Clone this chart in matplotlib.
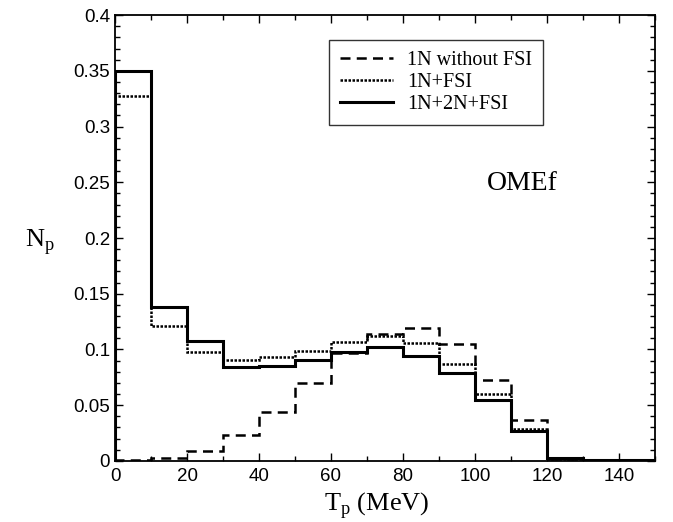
import numpy as np
import matplotlib
matplotlib.use("Agg")
import matplotlib.pyplot as plt
from matplotlib.ticker import MultipleLocator

edges = np.arange(0, 160, 10)
# 1N without FSI
n1_nofsi = [0.001, 0.003, 0.009, 0.023, 0.044, 0.070, 0.097, 0.114, 0.119, 0.105, 0.073, 0.037, 0.002, 0.0008, 0.0003]
# 1N+FSI
n1_fsi = [0.327, 0.121, 0.098, 0.091, 0.093, 0.099, 0.107, 0.112, 0.106, 0.087, 0.060, 0.029, 0.002, 0.001, 0.0005]
# 1N+2N+FSI
n12_fsi = [0.350, 0.138, 0.108, 0.084, 0.085, 0.091, 0.098, 0.102, 0.094, 0.079, 0.055, 0.027, 0.003, 0.001, 0.0005]

serif = "Liberation Serif"
sans = "Liberation Sans"

fig = plt.figure(figsize=(6.73, 5.22), dpi=100)
ax = fig.add_axes([0.171, 0.117, 0.802, 0.854])

ax.stairs(n1_nofsi, edges, color="black", lw=1.8, ls=(0, (4, 2.5)), label="1N without FSI")
ax.stairs(n1_fsi, edges, color="black", lw=1.8, ls=(0, (1, 0.6)), label="1N+FSI")
ax.stairs(n12_fsi, edges, color="black", lw=2.2, label="1N+2N+FSI")

ax.set_xlim(0, 150)
ax.set_ylim(0, 0.4)
ax.xaxis.set_minor_locator(MultipleLocator(10))
ax.yaxis.set_minor_locator(MultipleLocator(0.01))
ax.set_xticks([0, 20, 40, 60, 80, 100, 120, 140])
ax.set_yticks([0, 0.05, 0.1, 0.15, 0.2, 0.25, 0.3, 0.35, 0.4])
ax.set_yticklabels(["0", "0.05", "0.1", "0.15", "0.2", "0.25", "0.3", "0.35", "0.4"])
ax.tick_params(which="both", direction="in", top=True, right=True, width=1)
ax.tick_params(which="major", length=6, labelsize=13.5)
ax.tick_params(axis="x", which="major", pad=5)
ax.tick_params(which="minor", length=3.5)
for lab in ax.get_xticklabels() + ax.get_yticklabels():
    lab.set_fontfamily(sans)
for s in ax.spines.values():
    s.set_linewidth(1.3)

ax.set_xlabel(r"T$_\mathregular{p}$ (MeV)", fontfamily=serif, fontsize=19)
ax.xaxis.set_label_coords(0.485, -0.065)
ax.set_ylabel(r"N$_\mathregular{p}$", fontfamily=serif, fontsize=19, rotation=0, va="center")
ax.yaxis.set_label_coords(-0.14, 0.49)

ax.text(0.755, 0.623, "OMEf", transform=ax.transAxes, fontfamily=serif, fontsize=20, ha="center", va="center")

leg = ax.legend(loc="upper left", bbox_to_anchor=(0.397, 0.945), prop={"family": serif, "size": 14.5},
                frameon=True, fancybox=False, edgecolor="black", handlelength=2.6,
                borderpad=0.55, labelspacing=0.15, handletextpad=0.7, borderaxespad=0)
leg.get_frame().set_linewidth(1)

fig.savefig("out.png", dpi=100)
